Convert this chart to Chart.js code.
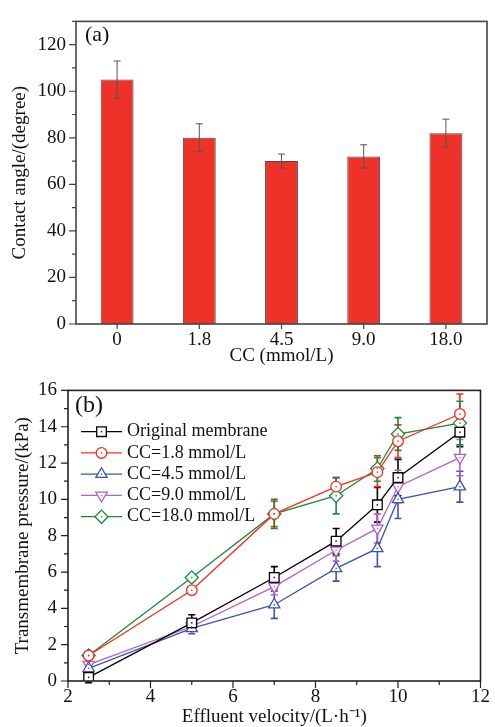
<!DOCTYPE html>
<html>
<head>
<meta charset="utf-8">
<script src="https://cdn.jsdelivr.net/npm/chart.js@4.4.1/dist/chart.umd.min.js"></script>
<style>
body { margin: 0; background: #fff; width: 495px; height: 727px; overflow: hidden; position: relative; }
#chartA { position: absolute; left: 0; top: 0; }
#chartB { position: absolute; left: 0; top: 368px; }
</style>
</head>
<body>
<canvas id="chartA" width="495" height="368"></canvas>
<canvas id="chartB" width="495" height="359"></canvas>
<script>
// (a) contact angle
const ccLabels = ['0', '1.8', '4.5', '9.0', '18.0']
const contactAngle = [105, 80, 70, 72, 82]
const contactAngleErr = [8, 6, 3, 5, 6]

// (b) transmembrane pressure vs effluent velocity
const velocity = [2.5, 5, 7, 8.5, 9.5, 10, 11.5]
const seriesNames = ['Original membrane', 'CC=1.8 mmol/L', 'CC=4.5 mmol/L', 'CC=9.0 mmol/L', 'CC=18.0 mmol/L']
const tmpOriginal = [0.2, 3.2, 5.7, 7.7, 9.7, 11.2, 13.7]
const tmpCC1_8 = [1.4, 5.0, 9.2, 10.7, 11.5, 13.2, 14.7]
const tmpCC4_5 = [0.7, 2.9, 4.2, 6.2, 7.3, 10.0, 10.7]
const tmpCC9_0 = [0.9, 3.0, 5.2, 7.2, 8.4, 10.7, 12.3]
const tmpCC18_0 = [1.4, 5.7, 9.2, 10.2, 11.7, 13.6, 14.2]
const errOriginal = [0.3, 0.45, 0.6, 0.7, 0.95, 1.0, 0.8]
const errCC1_8 = [0.1, 0.15, 0.7, 0.5, 0.8, 0.9, 1.1]
const errCC4_5 = [0.15, 0.3, 0.75, 0.7, 1.0, 1.05, 0.85]
const errCC9_0 = [0.15, 0.25, 0.45, 0.6, 0.8, 0.9, 1.0]
const errCC18_0 = [0.1, 0.1, 0.8, 1.0, 0.7, 0.9, 1.2]

const serif = "'Liberation Serif', 'Times New Roman', serif"
Chart.defaults.font.family = serif
Chart.defaults.font.size = 19
Chart.defaults.color = '#111'
Chart.defaults.animation = false

function isMultiple(v, step) {
    return Math.abs(v / step - Math.round(v / step)) < 1e-6
}

// frame around plot + outward major/minor ticks
const axisFrame = {
    id: 'axisFrame',
    afterDraw(chart, args, opts) {
        const {ctx, chartArea: a, scales} = chart
        ctx.save()
        ctx.strokeStyle = opts.color
        ctx.lineWidth = 1.2
        ctx.beginPath()
        for (let v = opts.yMin; v <= opts.yMax + 1e-9; v += opts.yMinor) {
            const p = scales.y.getPixelForValue(v)
            const len = isMultiple(v, opts.yMajor) ? 7 : 4
            ctx.moveTo(a.left - len, p)
            ctx.lineTo(a.left, p)
        }
        if (opts.xCategory) {
            scales.x.ticks.forEach((t, i) => {
                const p = scales.x.getPixelForTick(i)
                ctx.moveTo(p, a.bottom)
                ctx.lineTo(p, a.bottom + 5)
            })
        } else {
            for (let v = opts.xMin; v <= opts.xMax + 1e-9; v += opts.xMinor) {
                const p = scales.x.getPixelForValue(v)
                const len = isMultiple(v, opts.xMajor) ? 7 : 4
                ctx.moveTo(p, a.bottom)
                ctx.lineTo(p, a.bottom + len)
            }
        }
        ctx.stroke()
        ctx.lineWidth = 1.6
        ctx.strokeRect(a.left, a.top, a.right - a.left, a.bottom - a.top)
        ctx.restore()
    }
}

function drawErrors(chart, opts) {
    const {ctx, scales} = chart
    ctx.save()
    ctx.lineWidth = opts.width
    chart.data.datasets.forEach((ds, i) => {
        const meta = chart.getDatasetMeta(i)
        ctx.strokeStyle = opts.color || ds.borderColor
        ctx.beginPath()
        meta.data.forEach((el, j) => {
            const v = meta.parsed ? null : null
            const val = typeof ds.data[j] === 'object' ? ds.data[j].y : ds.data[j]
            const e = ds.errors[j]
            const yTop = scales.y.getPixelForValue(val + e)
            const yBot = scales.y.getPixelForValue(val - e)
            ctx.moveTo(el.x, yTop)
            ctx.lineTo(el.x, yBot)
            ctx.moveTo(el.x - opts.cap, yTop)
            ctx.lineTo(el.x + opts.cap, yTop)
            ctx.moveTo(el.x - opts.cap, yBot)
            ctx.lineTo(el.x + opts.cap, yBot)
        })
        ctx.stroke()
    })
    ctx.restore()
}

const errorBars = {
    id: 'errorBars',
    beforeDatasetsDraw(chart, args, opts) {
        if (!opts.front) drawErrors(chart, opts)
    },
    afterDatasetsDraw(chart, args, opts) {
        if (opts.front) drawErrors(chart, opts)
        if (opts.centerDots) {
            const {ctx} = chart
            chart.data.datasets.forEach((ds, i) => {
                ctx.fillStyle = ds.borderColor
                chart.getDatasetMeta(i).data.forEach(el => {
                    ctx.fillRect(el.x - 0.7, el.y - 0.7, 1.4, 1.4)
                })
            })
        }
    }
}

// panel letter and inset legend (line + marker like Origin)
const panelText = {
    id: 'panelText',
    afterDraw(chart, args, opts) {
        const {ctx} = chart
        ctx.save()
        ctx.fillStyle = '#111'
        ctx.textBaseline = 'middle'
        ctx.textAlign = 'left'
        ctx.font = opts.panelSize + 'px ' + serif
        ctx.fillText(opts.panel, opts.panelX, opts.panelY)
        if (opts.legend) {
            const L = opts.legend
            ctx.font = L.size + 'px ' + serif
            chart.data.datasets.forEach((ds, i) => {
                const y = L.top + i * L.row
                ctx.strokeStyle = ds.borderColor
                ctx.lineWidth = 1.3
                ctx.beginPath()
                ctx.moveTo(L.left, y)
                ctx.lineTo(L.left + L.len, y)
                ctx.stroke()
                ctx.fillStyle = '#fff'
                Chart.helpers.drawPoint(ctx, {
                    pointStyle: ds.pointStyle,
                    rotation: ds.pointRotation || 0,
                    radius: ds.pointRadius,
                    borderWidth: 1.3
                }, L.left + L.len / 2, y)
                ctx.fillStyle = ds.borderColor
                ctx.fillRect(L.left + L.len / 2 - 0.7, y - 0.7, 1.4, 1.4)
                ctx.fillStyle = '#111'
                ctx.fillText(ds.label, L.left + L.len + 5, y)
            })
        }
        ctx.restore()
    }
}

new Chart(document.getElementById('chartA'), {
    type: 'bar',
    data: {
        labels: ccLabels,
        datasets: [{
            label: 'Contact angle',
            data: contactAngle,
            errors: contactAngleErr,
            backgroundColor: '#ee3129',
            borderColor: '#4a4a4a',
            borderWidth: 1,
            barPercentage: 0.4,
            categoryPercentage: 1
        }]
    },
    options: {
        responsive: false,
        layout: {padding: {top: 15, right: 8, left: 0, bottom: 0}},
        plugins: {
            legend: {display: false},
            tooltip: {enabled: false},
            errorBars: {front: true, color: '#555', width: 1, cap: 3.5},
            axisFrame: {color: '#444', yMin: 0, yMax: 130, yMinor: 10, yMajor: 20, xCategory: true},
            panelText: {panel: '(a)', panelSize: 22, panelX: 85, panelY: 35}
        },
        scales: {
            x: {
                grid: {display: false, drawTicks: false},
                border: {display: false},
                ticks: {padding: 5},
                title: {display: true, text: 'CC (mmol/L)', font: {size: 19, lineHeight: 1}, padding: {top: 0, bottom: 2.5}},
                afterFit(s) { s.height = 44 }
            },
            y: {
                min: 0,
                max: 130,
                ticks: {stepSize: 20, padding: 10},
                afterBuildTicks(s) { s.ticks = s.ticks.filter(t => t.value % 20 === 0) },
                grid: {display: false, drawTicks: false},
                border: {display: false},
                title: {display: true, text: 'Contact angle/(degree)', font: {size: 19, lineHeight: 1}, padding: {top: 10.5, bottom: 0}},
                afterFit(s) { s.width = 76 }
            }
        }
    },
    plugins: [axisFrame, errorBars, panelText]
})

const seriesValues = [tmpOriginal, tmpCC1_8, tmpCC4_5, tmpCC9_0, tmpCC18_0]
const seriesErrors = [errOriginal, errCC1_8, errCC4_5, errCC9_0, errCC18_0]
const seriesColors = ['#000000', '#ff2b1f', '#3b54b4', '#b45fc6', '#1b8a3b']
const seriesMarkers = ['rect', 'circle', 'triangle', 'triangle', 'rectRot']
const markerRotation = [0, 0, 0, 180, 0]
const markerRadius = [6.8, 5.3, 6.5, 6.5, 6.6]

new Chart(document.getElementById('chartB'), {
    type: 'line',
    data: {
        datasets: seriesNames.map((name, i) => ({
            label: name,
            data: velocity.map((x, j) => ({x: x, y: seriesValues[i][j]})),
            errors: seriesErrors[i],
            borderColor: seriesColors[i],
            borderWidth: 1.3,
            pointStyle: seriesMarkers[i],
            pointRotation: markerRotation[i],
            pointRadius: markerRadius[i],
            pointBorderWidth: 1.3,
            pointBackgroundColor: '#fff',
            pointBorderColor: seriesColors[i],
            tension: 0
        }))
    },
    options: {
        responsive: false,
        layout: {padding: {top: 16, right: 10, left: 0, bottom: 0}},
        plugins: {
            legend: {display: false},
            tooltip: {enabled: false},
            errorBars: {front: false, width: 1.6, cap: 3.5, centerDots: true},
            axisFrame: {color: '#222', yMin: 0, yMax: 16, yMinor: 1, yMajor: 2, xMin: 2, xMax: 12, xMinor: 1, xMajor: 2},
            panelText: {
                panel: '(b)', panelSize: 24, panelX: 75, panelY: 38,
                legend: {left: 81, len: 41, top: 63.7, row: 21.25, size: 18}
            }
        },
        scales: {
            x: {
                type: 'linear',
                min: 2,
                max: 12,
                ticks: {stepSize: 2, padding: 5},
                grid: {display: false, drawTicks: false},
                border: {display: false},
                title: {display: true, text: 'Effluent velocity/(L·h⁻¹)', font: {size: 19, lineHeight: 1}, padding: {top: 0, bottom: 0}},
                afterFit(s) { s.height = 46 }
            },
            y: {
                min: 0,
                max: 16,
                ticks: {stepSize: 2, padding: 11},
                grid: {display: false, drawTicks: false},
                border: {display: false},
                title: {display: true, text: 'Transmembrane pressure/(kPa)', font: {size: 19, lineHeight: 1}, padding: {top: 13.5, bottom: 0}},
                afterFit(s) { s.width = 68 }
            }
        }
    },
    plugins: [axisFrame, errorBars, panelText]
})
</script>
</body>
</html>
